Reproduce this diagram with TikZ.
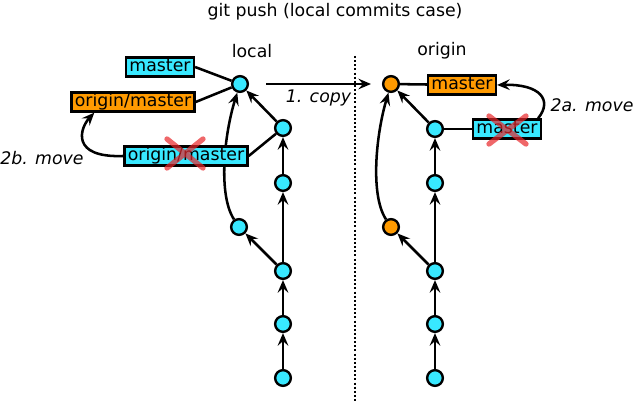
\documentclass[tikz,border=0pt]{standalone}
\usepackage{fontspec}
\setmainfont{DejaVu Sans}
\usepackage{tikz}
\usetikzlibrary{arrows.meta}
\usetikzlibrary{positioning}
\definecolor{commitcyan}{HTML}{38E8FF}
\definecolor{commitorange}{HTML}{FF9A00}
\definecolor{crossred}{HTML}{E8262A}

\newcommand{\labelfont}{\fontsize{13}{15}\selectfont}
\tikzset{
  commit/.style={circle,draw,line width=1.8pt,fill=commitcyan,minimum size=11.8pt,inner sep=0pt},
  oldcommit/.style={commit,fill=commitorange},
  branch/.style={draw,line width=1.8pt,fill=commitcyan,inner xsep=2.5pt,inner ysep=1pt,text height=9.6pt,text depth=2.6pt},
  remotebranch/.style={branch,fill=commitorange},
  edge/.style={line width=1.9pt,-{Stealth[length=9.5pt,width=8pt,inset=3.5pt]}},
  link/.style={line width=1.9pt},
  cross/.style={line width=4pt,crossred,opacity=.7,line cap=round},
  step label/.style={font=\labelfont\itshape}
}

\begin{document}
\begin{tikzpicture}[x=0.75pt,y=-0.75pt,font=\labelfont]
\useasboundingbox (0,0) rectangle (633,406);
\node (title) at (335,12) {git push (local commits case)};
\node (lname) at (252,51) {local};
\node (oname) at (442,51) {origin};
\draw[line width=1.8pt,dash pattern=on 1.5pt off 1.6pt] (355,56)--(355,402);

\node[commit] (l0) at (240,84) {};
\node[commit] (l1) at (283,128) {};
\node[commit] (l2) at (283,183) {};
\node[commit] (l3) at (239,227) {};
\node[commit] (l4) at (283,271) {};
\node[commit] (l5) at (283,324) {};
\node[commit] (l6) at (283,378) {};
\draw[edge] (l6)--(l5);
\draw[edge] (l5)--(l4);
\draw[edge] (l4)--(l3);
\draw[edge] (l4)--(l2);
\draw[edge] (l2)--(l1);
\draw[edge] (l1)--(l0);
\draw[edge] (l3) .. controls (218,195) and (224,135) .. (l0);

\node[branch] (lmaster) at (160,67) {master};
\node[remotebranch] (lorigin) at (133,102) {origin/master};
\node[branch] (loldorigin) at (186,156) {origin/master};
\draw[link] (lmaster.east)--(l0);
\draw[link] (lorigin.east)--(l0);
\draw[link] (loldorigin.east)--(l1);
\draw[cross] (167,139)--(203,168) (167,168)--(203,139);
\draw[edge] (loldorigin.west) .. controls (70,158) and (80,128) .. ([xshift=18pt]lorigin.south west);
\node[step label] (moveb) at (42,158) {2b. move};

\node[oldcommit] (o0) at (391,84) {};
\node[commit] (o1) at (435,129) {};
\node[commit] (o2) at (435,183) {};
\node[oldcommit] (o3) at (391,227) {};
\node[commit] (o4) at (435,271) {};
\node[commit] (o5) at (435,324) {};
\node[commit] (o6) at (435,378) {};
\draw[edge] (o6)--(o5);
\draw[edge] (o5)--(o4);
\draw[edge] (o4)--(o3);
\draw[edge] (o4)--(o2);
\draw[edge] (o2)--(o1);
\draw[edge] (o1)--(o0);
\draw[edge] (o3) .. controls (370,195) and (376,135) .. (o0);

\node[remotebranch] (omaster) at (462,85) {master};
\node[branch] (ooldmaster) at (507,129) {master};
\draw[link] (o0)--(omaster);
\draw[link] (o1)--(ooldmaster);
\draw[cross] (489,116)--(526,144) (489,144)--(526,116);
\draw[edge] ([xshift=-3pt]ooldmaster.north east) .. controls (553,100) and (540,84) .. (omaster.east);
\node[step label] (movea) at (592,105) {2a. move};

\coordinate (copyfrom) at (266,84);
\coordinate (copyto) at (371,84);
\draw[edge] (copyfrom)--(copyto) node[midway,below,step label] (copy) {1. copy};
\end{tikzpicture}
\end{document}
